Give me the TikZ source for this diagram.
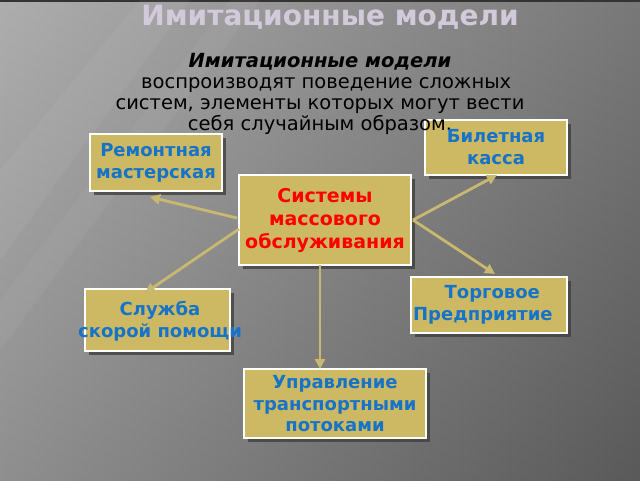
\documentclass[tikz,border=0pt]{standalone}
\usepackage{fontspec}
\setmainfont{DejaVu Sans}
\usetikzlibrary{arrows.meta,shadows}
\definecolor{tan}{HTML}{CDB964}
\definecolor{lbl}{HTML}{1573C8}
\definecolor{arr}{HTML}{C9B870}
\definecolor{ttl}{HTML}{D2CADA}
\tikzset{
  box/.style={draw=white, line width=2pt, fill=tan, drop shadow={shadow xshift=4pt, shadow yshift=-4pt, fill=black!75, opacity=0.8}},
  lab/.style={font=\bfseries\fontsize{18}{21.5}\selectfont, text=lbl, align=center, inner sep=0pt},
  con/.style={draw=arr, line width=2.8pt, -{Triangle[length=10pt,width=10pt]}},
}
\begin{document}
\begin{tikzpicture}[x=1pt,y=-1pt]
\useasboundingbox (0,0) rectangle (640,480);
\shade[left color=black!40, right color=black!66] (0,0) rectangle (640,480);
\shade[top color=black!0, bottom color=black!60, opacity=0.2] (0,0) rectangle (640,480);
\fill[black!80] (0,0) rectangle (640,2);
\fill[white, opacity=0.05] (0,170) -- (140,0) -- (190,0) -- (0,260) -- cycle;
\fill[white, opacity=0.04] (0,300) -- (230,0) -- (260,0) -- (0,350) -- cycle;
% boxes
\path[box] (90,134) rectangle (222,191);
\path[box] (425,120) rectangle (567,175);
\path[box] (239,175) rectangle (411,265);
\path[box] (411,277) rectangle (567,333);
\path[box] (85,289) rectangle (230,351);
\path[box] (244,369) rectangle (426,438);
% title and text
\node (title) at (330,17) {\textcolor{ttl}{\bfseries\fontsize{28}{30}\selectfont Имитационные модели}};
\node (body) [align=center, font=\fontsize{19.5}{21}\selectfont, inner sep=0pt] at (320,94)
 {\textbf{\textit{Имитационные модели}}\\
  \ \ воспроизводят поведение сложных\\
  систем, элементы которых могут вести\\
  себя случайным образом.};
\node[lab] (rem) at (156,163) {Ремонтная\\мастерская};
\node[lab] (bil) at (496,147) {Билетная\\касса};
\node[lab, text=red, font=\bfseries\fontsize{19}{23}\selectfont] (sys) at (325,220) {Системы\\ массового\\обслуживания};
\node[lab] (tor) at (486,305) {\ \ Торговое\\Предприятие\ \ };
\node[lab] (slu) at (160,321) {Служба\\скорой помощи};
\node[lab] (upr) at (335,404) {Управление\\транспортными\\потоками};
% connectors
\coordinate (c1) at (237,218);
\coordinate (c2) at (239,229);
\coordinate (c3) at (413,220);
\coordinate (c4) at (320,265);
\coordinate (e1) at (150,197);
\coordinate (e2) at (145,293);
\coordinate (e3) at (497,175);
\coordinate (e4) at (495,274);
\coordinate (e5) at (320,369);
\draw[con] (c1) -- (e1);
\draw[con] (c2) -- (e2);
\draw[con] (c3) -- (e3);
\draw[con] (c3) -- (e4);
\draw[con] (c4) -- (e5);
\end{tikzpicture}
\end{document}
